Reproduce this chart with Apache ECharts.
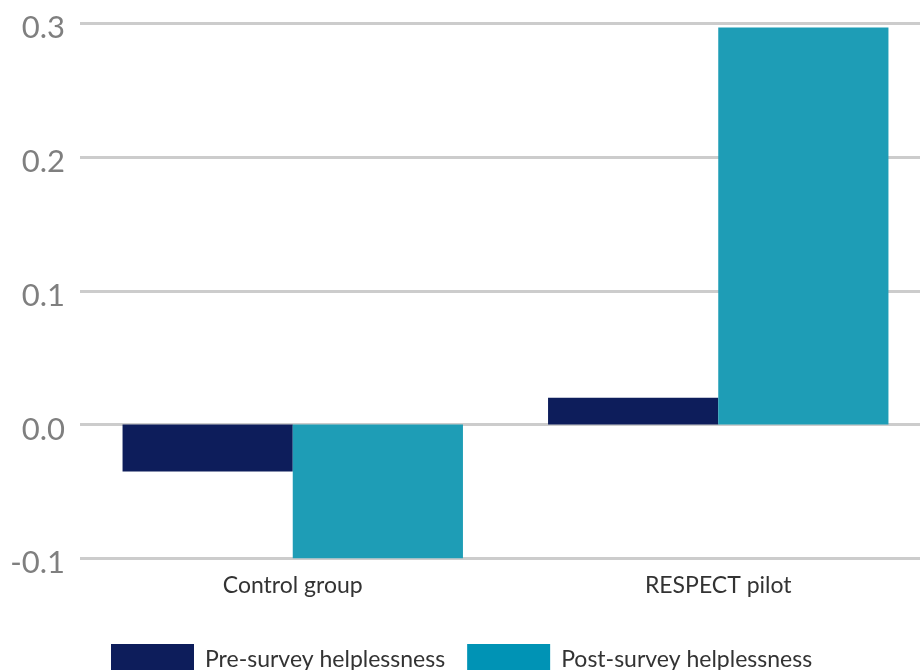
<!DOCTYPE html>
<html>
<head>
<meta charset="utf-8">
<script src="https://cdn.jsdelivr.net/npm/echarts@6/dist/echarts.min.js"></script>
<style>
html, body { margin: 0; padding: 0; background: #fff; overflow: hidden; }
#main { width: 931px; height: 670px; }
</style>
</head>
<body>
<div id="main"></div>
<script>
// categories and values
var categories = ['Control group', 'RESPECT pilot'];
var preSurvey = [-0.035, 0.02];
var postSurvey = [-0.1, 0.297];
var seriesNames = ['Pre-survey helplessness', 'Post-survey helplessness'];

// the plot area runs a little past the right edge of the picture
var myChart = echarts.init(document.getElementById('main'));

var option = {
	animation : false,
	grid : {
		left : 80,
		right : 0,
		top : 23.4,
		bottom : 111.7,
		containLabel : false
	},
	legend : {
		left : 111,
		top : 644,
		padding : 0,
		itemWidth : 83,
		itemHeight : 32,
		itemGap : 22,
		icon : 'rect',
		textStyle : {
			fontFamily : 'Lato',
			fontSize : 23,
			color : '#333333',
			padding : [ 0, 0, 0, 6 ]
		},
		data : [ {
			name : seriesNames[0],
			itemStyle : { color : '#0d1d5b' }
		}, {
			name : seriesNames[1],
			itemStyle : { color : '#0093b5' }
		} ]
	},
	xAxis : {
		type : 'category',
		data : categories,
		axisLine : { show : false, onZero : false },
		axisTick : { show : false },
		axisLabel : {
			margin : 16,
			fontFamily : 'Lato',
			fontSize : 23,
			color : '#333333'
		}
	},
	yAxis : {
		type : 'value',
		min : -0.1,
		max : 0.3,
		interval : 0.1,
		axisLine : { show : false },
		axisTick : { show : false },
		axisLabel : {
			margin : 15,
			formatter : function(v) {
				return '{v|' + v.toFixed(1) + '}';
			},
			rich : {
				v : {
					fontFamily : 'Lato',
					fontSize : 31,
					color : '#7f7f7f',
					padding : [ 10, 0, 0, 0 ]
				}
			}
		},
		splitLine : {
			lineStyle : { color : '#cccccc', width : 3 }
		}
	},
	series : [ {
		name : seriesNames[0],
		type : 'bar',
		data : preSurvey,
		barGap : '0%',
		barCategoryGap : '20%',
		itemStyle : { color : '#0d1d5b' }
	}, {
		name : seriesNames[1],
		type : 'bar',
		data : postSurvey,
		barGap : '0%',
		barCategoryGap : '20%',
		itemStyle : { color : '#1e9db6' }
	} ]
};

myChart.setOption(option);
</script>
</body>
</html>
